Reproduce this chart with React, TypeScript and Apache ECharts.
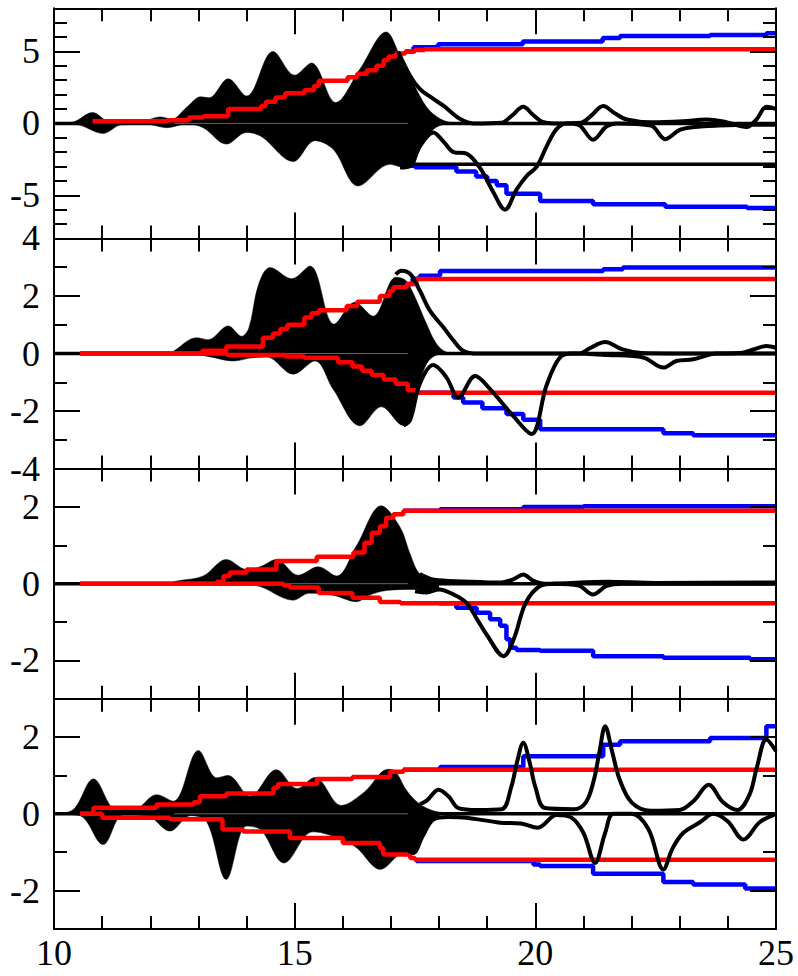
import React, { useEffect, useRef } from "react";
import * as echarts from "echarts";

// ---------- shared axis data ----------
const X_MIN = 10;
const X_MAX = 25;
const X_MAJOR = 5;

// ---------- panel 1 ----------
const p1Range = [-8, 8];
const p1Labels = [-5, 0, 5];
const p1FillTop = [[10,0],[10.4,0.1],[10.8,0.75],[11.15,0.1],[11.5,0.03],[11.9,0.2],[12.2,0.45],[12.45,0.3],[12.75,1.1],[13.05,1.85],[13.22,1.78],[13.62,3.1],[14.0,1.9],[14.55,5.0],[15.0,3.35],[15.35,4.2],[15.85,1.45],[16.36,3.8],[16.9,6.35],[17.2,4.6],[17.47,2.77],[17.74,1.14],[18.02,0.32],[18.3,0.03],[18.5,0]];
const p1FillBot = [[10,0],[10.5,-0.1],[11.02,-0.7],[11.4,-0.1],[11.9,-0.05],[12.35,-0.3],[12.75,-0.05],[13.1,-0.3],[13.58,-1.44],[14.0,-0.63],[14.3,-0.9],[14.97,-2.65],[15.42,-1.2],[15.8,-1.8],[16.32,-4.35],[16.98,-2.85],[17.26,-3.05],[17.47,-2.9],[17.55,-2.2],[17.74,-0.96],[17.95,-0.26],[18.2,-0.03],[18.4,0]];
const p1Upper = [[17.15,5.0],[17.4,3.3],[17.6,2.4],[17.88,1.7],[18.09,1.23],[18.44,0.3],[18.71,0],[19.3,0.05],[19.5,0.5],[19.75,1.15],[19.95,0.6],[20.15,0.1],[20.4,0],[20.95,0.05],[21.15,0.5],[21.41,1.2],[21.65,0.7],[21.9,0.27],[22.4,0.08],[23.07,0.15],[23.56,0.27],[23.95,0.1],[24.39,-0.25],[24.6,0.3],[24.8,1.15],[25,1.0]];
const p1Lower = [[17.19,-3.07],[17.4,-2.95],[17.6,-1.6],[17.88,-0.63],[18.1,-1.3],[18.3,-2.0],[18.57,-2.1],[18.85,-3.1],[19.13,-4.8],[19.37,-6.0],[19.61,-4.6],[19.82,-3.66],[20.03,-3.0],[20.24,-1.56],[20.44,-0.4],[20.65,0],[20.9,-0.1],[21.2,-1.14],[21.48,-0.2],[21.7,0],[22.4,-0.15],[22.7,-1.1],[23.0,-0.45],[23.3,-0.25],[23.8,-0.15],[24.5,-0.1],[25,-0.1]];
const p1Base = [[17.2,-2.85],[25,-2.85]];
const p1RedUp = [[10.8,0.15],[12.35,0.22],[12.8,0.4],[13.1,0.5],[13.62,1.0],[14.3,1.2],[14.4,1.5],[14.6,1.8],[14.8,2.1],[15.2,2.3],[15.4,2.6],[15.5,2.97],[16.1,3.2],[16.3,3.45],[16.5,3.7],[16.7,4.0],[16.85,4.4],[16.95,4.65],[17.1,4.86],[17.3,5.0],[17.5,5.1],[17.7,5.15],[25,5.15]];
const p1BlueUp = [[17.3,5.0],[17.47,5.3],[17.98,5.5],[19.74,5.7],[21.4,5.93],[21.76,6.07],[23.63,6.15],[24.8,6.26],[25,6.26]];
const p1BlueLo = [[17.2,-2.95],[17.5,-3.05],[18.36,-3.35],[18.77,-3.7],[19.0,-4.0],[19.2,-4.3],[19.4,-4.9],[20.1,-5.4],[21.2,-5.63],[22.7,-5.8],[24.4,-5.88],[25,-5.9]];

// ---------- panel 2 ----------
const p2Range = [-4, 4];
const p2Labels = [-4, -2, 0, 2, 4];
const p2FillTop = [[10,0],[12.3,0],[12.45,0.05],[12.96,0.55],[13.2,0.48],[13.62,0.96],[13.9,0.6],[14.05,0.9],[14.25,2.4],[14.49,2.99],[14.94,2.6],[15.32,3.04],[15.82,1.02],[16.25,1.78],[16.63,1.3],[17.1,2.65],[17.3,2.55],[17.47,2.07],[17.74,1.03],[17.95,0.33],[18.15,0.05],[18.4,0]];
const p2FillBot = [[10,0],[12.8,0],[13.2,-0.1],[13.73,-0.26],[14.1,-0.15],[14.42,-0.12],[14.97,-0.72],[15.42,-0.26],[15.8,-1.24],[16.36,-2.51],[16.8,-1.85],[17.26,-2.5],[17.39,-2.3],[17.53,-1.4],[17.74,-0.36],[17.95,-0.05],[18.2,0]];
const p2Upper = [[17.1,2.75],[17.22,2.88],[17.4,2.77],[17.6,2.19],[17.81,1.49],[18.09,0.91],[18.3,0.45],[18.5,0.1],[18.8,0],[20.9,0],[21.15,0.2],[21.45,0.4],[21.8,0.15],[22.2,0.02],[23.5,0],[24.3,0.03],[24.55,0.15],[24.8,0.26],[25,0.2]];
const p2Lower = [[17.26,-2.5],[17.4,-2.3],[17.6,-1.05],[17.88,-0.4],[18.15,-0.82],[18.4,-1.53],[18.75,-0.78],[19.06,-1.24],[19.54,-2.17],[19.92,-2.8],[20.23,-1.12],[20.51,-0.14],[20.78,0],[21.5,-0.05],[22.24,-0.14],[22.66,-0.49],[22.93,-0.26],[23.28,-0.2],[23.77,0],[25,0]];
const p2RedUp = [[10.54,0],[13.08,0.1],[13.58,0.24],[14.34,0.55],[14.55,0.7],[14.7,0.85],[14.85,1.0],[15.2,1.25],[15.35,1.4],[15.5,1.5],[16.08,1.65],[16.3,1.8],[16.77,2.0],[16.97,2.17],[17.05,2.3],[17.33,2.42],[17.53,2.59],[25,2.59]];
const p2RedLo = [[10.54,0],[13.6,-0.05],[14.8,-0.1],[15.2,-0.15],[15.9,-0.3],[16.2,-0.45],[16.4,-0.6],[16.6,-0.75],[16.85,-0.9],[17.1,-1.05],[17.35,-1.28],[17.55,-1.36],[25,-1.36]];
const p2BlueUp = [[17.3,2.42],[17.45,2.6],[17.6,2.7],[18.02,2.87],[21.41,2.93],[21.82,2.99],[25,2.99]];
const p2BlueLo = [[17.5,-1.36],[18.3,-1.53],[18.5,-1.7],[18.9,-1.9],[19.4,-2.1],[19.75,-2.3],[20.1,-2.63],[22.66,-2.77],[23.28,-2.84],[25,-2.84]];

// ---------- panel 3 ----------
const p3Range = [-3, 3];
const p3Labels = [-2, 0, 2];
const p3FillTop = [[10,0],[12.3,0],[12.55,0.07],[13.1,0.2],[13.58,0.63],[14.0,0.37],[14.3,0.45],[14.62,0.63],[15.07,0.22],[15.49,0.44],[15.87,0.2],[16.28,0.98],[16.8,2.03],[17.19,1.47],[17.4,0.77],[17.6,0.25],[17.88,0.12],[18.1,0.08]];
const p3FillBot = [[10,0],[13.5,0],[14.2,-0.05],[14.97,-0.43],[15.3,-0.25],[15.8,-0.3],[16.28,-0.47],[16.55,-0.3],[16.9,-0.18],[17.47,-0.15],[17.8,-0.2],[18.0,-0.1]];
const p3Upper = [[17.6,0.25],[17.9,0.1],[18.5,0.06],[19.3,0.03],[19.55,0.12],[19.75,0.24],[19.95,0.08],[20.2,0],[21.5,0.05],[22.5,0.02],[25,0.03]];
const p3Lower = [[17.5,-0.2],[17.74,-0.23],[18.0,-0.15],[18.3,-0.28],[18.57,-0.5],[18.8,-0.95],[19.0,-1.35],[19.34,-1.89],[19.55,-1.45],[19.8,-0.5],[20.1,-0.06],[20.4,0],[20.9,-0.05],[21.2,-0.28],[21.48,-0.06],[21.8,0],[25,0]];
const p3RedUp = [[10.54,0],[13.38,0.05],[13.52,0.2],[13.65,0.29],[14.0,0.37],[14.62,0.59],[15.46,0.7],[16.22,0.81],[16.45,1.07],[16.6,1.33],[16.77,1.5],[16.9,1.72],[17.05,1.81],[17.26,1.9],[25,1.9]];
const p3RedLo = [[10.54,0],[14.77,-0.05],[14.9,-0.1],[15.5,-0.24],[16.2,-0.37],[16.77,-0.48],[17.2,-0.51],[25,-0.51]];
const p3BlueUp = [[17.26,1.9],[18.02,1.94],[19.75,2.0],[21.0,2.02],[25,2.02]];
const p3BlueLo = [[18.0,-0.51],[18.36,-0.63],[18.78,-0.76],[19.06,-0.93],[19.27,-1.1],[19.4,-1.45],[19.48,-1.67],[19.61,-1.73],[20.1,-1.75],[21.2,-1.89],[22.66,-1.93],[24.46,-1.97],[25,-1.97]];

// ---------- panel 4 ----------
const p4Range = [-3, 3];
const p4Labels = [-2, 0, 2];
const p4FillTop = [[10,0],[10.4,0.11],[10.82,0.91],[11.3,0.1],[11.65,0.1],[12.13,0.5],[12.48,0.33],[13.0,1.65],[13.38,0.94],[13.62,1.0],[14.07,0.46],[14.62,1.15],[15.05,0.66],[15.42,0.95],[15.97,0.22],[16.45,0.57],[16.94,1.16],[17.08,1.12],[17.33,0.6],[17.6,0.25],[17.88,0.08],[18.1,0.03]];
const p4FillBot = [[10,0],[10.54,-0.05],[11.02,-0.8],[11.44,-0.03],[11.93,-0.05],[12.41,-0.45],[12.83,-0.05],[13.17,-0.2],[13.58,-1.71],[14.0,-0.32],[14.3,-0.42],[14.78,-1.28],[15.38,-0.47],[16.05,-0.7],[16.3,-0.9],[16.78,-1.45],[17.19,-1.05],[17.46,-0.98],[17.65,-0.6],[17.81,-0.27],[18.0,-0.05],[18.1,0]];
const p4Upper = [[17.6,0.25],[17.75,0.35],[17.99,0.63],[18.2,0.45],[18.4,0.15],[18.8,0.1],[19.3,0.12],[19.5,0.7],[19.62,1.35],[19.75,1.85],[19.88,1.35],[20.0,0.7],[20.2,0.15],[20.8,0.12],[21.05,0.3],[21.22,0.9],[21.33,1.6],[21.45,2.28],[21.6,1.6],[21.75,0.9],[22.0,0.3],[22.4,0.08],[23.0,0.1],[23.3,0.35],[23.6,0.76],[23.9,0.3],[24.2,0.1],[24.45,0.5],[24.6,1.2],[24.8,1.94],[25,1.63]];
const p4Lower = [[17.19,-0.76],[17.46,-1.02],[17.65,-0.6],[17.88,-0.15],[18.2,-0.08],[18.57,-0.1],[19.27,-0.23],[19.7,-0.25],[20.05,-0.36],[20.44,-0.03],[20.75,-0.1],[21.0,-0.5],[21.24,-1.28],[21.45,-0.5],[21.62,0],[22.0,0],[22.35,-0.4],[22.66,-1.45],[22.85,-0.9],[23.07,-0.5],[23.42,-0.22],[23.7,0],[24.0,-0.2],[24.32,-0.67],[24.66,-0.22],[25,0]];
const p4RedUp = [[10.54,0],[10.82,0.16],[12.13,0.24],[12.9,0.3],[13.03,0.46],[13.58,0.53],[14.56,0.68],[14.65,0.78],[15.46,0.91],[16.2,0.96],[16.98,1.1],[17.26,1.15],[25,1.15]];
const p4RedLo = [[10.54,0],[11.0,-0.1],[12.4,-0.14],[13.5,-0.41],[13.93,-0.46],[14.9,-0.63],[16.0,-0.76],[16.77,-0.89],[16.84,-1.06],[17.4,-1.15],[17.5,-1.2],[25,-1.2]];
const p4BlueUp = [[17.26,1.15],[18.02,1.22],[19.75,1.5],[21.41,1.8],[21.76,1.89],[23.63,1.98],[24.8,2.28],[25,2.28]];
const p4BlueLo = [[17.5,-1.2],[17.53,-1.23],[19.96,-1.32],[20.1,-1.36],[21.2,-1.56],[22.66,-1.78],[23.28,-1.84],[24.36,-1.95],[25,-1.95]];

// zero reference lines (thick black baseline, thin seam inside the filled band)
const zeroThick = [[10,0],[25,0]];
const zeroSeam = [[12.5,0],[17.35,0]];

const panels = [
  { range: p1Range, labels: p1Labels, fillTop: p1FillTop, fillBot: p1FillBot, upper: p1Upper, lower: p1Lower, extra: p1Base, redUp: p1RedUp, redLo: null, blueUp: p1BlueUp, blueLo: p1BlueLo },
  { range: p2Range, labels: p2Labels, fillTop: p2FillTop, fillBot: p2FillBot, upper: p2Upper, lower: p2Lower, extra: null, redUp: p2RedUp, redLo: p2RedLo, blueUp: p2BlueUp, blueLo: p2BlueLo },
  { range: p3Range, labels: p3Labels, fillTop: p3FillTop, fillBot: p3FillBot, upper: p3Upper, lower: p3Lower, extra: null, redUp: p3RedUp, redLo: p3RedLo, blueUp: p3BlueUp, blueLo: p3BlueLo },
  { range: p4Range, labels: p4Labels, fillTop: p4FillTop, fillBot: p4FillBot, upper: p4Upper, lower: p4Lower, extra: null, redUp: p4RedUp, redLo: p4RedLo, blueUp: p4BlueUp, blueLo: p4BlueLo },
];

const FONT = "Liberation Serif";
const FONT_SIZE = 36;
const GRID_LEFT = 54;
const GRID_RIGHT = 22;
const GRID_TOP = 8.3;
const GRID_H = 230.15;

function buildOption() {
  const grid: any[] = [];
  const xAxis: any[] = [];
  const yAxis: any[] = [];
  const series: any[] = [];
  const line = { color: "#000", width: 2 };

  panels.forEach((p, i) => {
    grid.push({ left: GRID_LEFT, right: GRID_RIGHT, top: GRID_TOP + i * GRID_H, height: GRID_H, containLabel: false });
    ["bottom", "top"].forEach((pos) => {
      xAxis.push({
        type: "value", gridIndex: i, position: pos, min: X_MIN, max: X_MAX, interval: X_MAJOR, z: 10,
        axisLine: { show: true, onZero: false, lineStyle: line },
        axisTick: { show: true, inside: true, length: 26, lineStyle: line },
        minorTick: { show: true, splitNumber: 5, length: 13, lineStyle: line },
        splitLine: { show: false }, minorSplitLine: { show: false },
        axisLabel: { show: pos === "bottom" && i === panels.length - 1, fontFamily: FONT, fontSize: FONT_SIZE, color: "#000", margin: 6 },
      });
    });
    ["left", "right"].forEach((pos) => {
      yAxis.push({
        type: "value", gridIndex: i, position: pos, min: p.range[0], max: p.range[1], interval: 1, z: 10,
        axisLine: { show: true, onZero: false, lineStyle: line },
        axisTick: { show: true, inside: true, length: 13, lineStyle: line },
        axisLabel: { show: false }, splitLine: { show: false },
      });
      yAxis.push({
        type: "value", gridIndex: i, position: pos, min: p.range[0], max: p.range[1], z: 10,
        axisLine: { show: false, onZero: false },
        axisTick: { show: true, inside: true, length: 26, lineStyle: line, customValues: p.labels },
        axisLabel: { show: pos === "left", customValues: p.labels, fontFamily: FONT, fontSize: FONT_SIZE, color: "#000", margin: 14, showMinLabel: true, showMaxLabel: true },
        splitLine: { show: false },
      });
    });
    const yIdx = i * 4;
    const xIdx = i * 2;
    const base = { type: "line", xAxisIndex: xIdx, yAxisIndex: yIdx, symbol: "none", animation: false, silent: true };
    // filled envelope
    [p.fillTop, p.fillBot].forEach((d) => {
      series.push({ ...base, data: d, smooth: 0.35, z: 1, lineStyle: { width: 0.5, color: "#000" }, areaStyle: { color: "#000", opacity: 1, origin: 0 } });
    });
    series.push({ ...base, data: zeroThick, z: 2, lineStyle: { width: 3.5, color: "#000" } });
    series.push({ ...base, data: zeroSeam, z: 2.5, lineStyle: { width: 1, color: "#666" } });
    [p.blueUp, p.blueLo].forEach((d) => {
      if (d) series.push({ ...base, data: d, step: "end", z: 3, lineStyle: { width: 4.5, color: "#0000ff" } });
    });
    [p.redUp, p.redLo].forEach((d) => {
      if (d) series.push({ ...base, data: d, step: "end", z: 4, lineStyle: { width: 4.5, color: "#ff0000" } });
    });
    [p.upper, p.lower].forEach((d) => {
      series.push({ ...base, data: d, smooth: 0.35, z: 5, lineStyle: { width: 4, color: "#000" } });
    });
    if (p.extra) series.push({ ...base, data: p.extra, z: 5, lineStyle: { width: 3.5, color: "#000" } });
  });

  return { animation: false, backgroundColor: "#fff", grid, xAxis, yAxis, series };
}

export default function App() {
  const ref = useRef<HTMLDivElement>(null);
  useEffect(() => {
    document.body.style.margin = "0";
    const chart = echarts.init(ref.current!, null, { renderer: "svg" });
    chart.setOption(buildOption());
    return () => chart.dispose();
  }, []);
  return <div ref={ref} style={{ width: 798, height: 976 }} />;
}
